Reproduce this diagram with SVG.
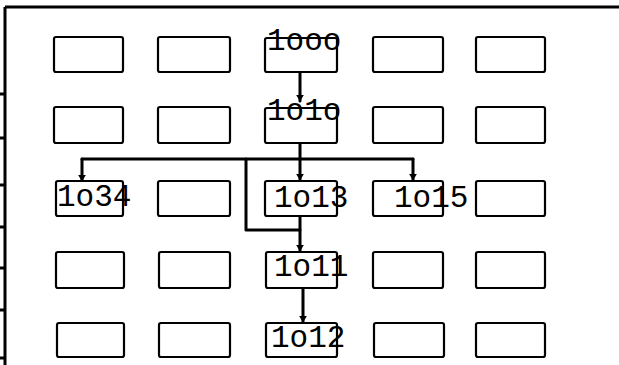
<svg xmlns="http://www.w3.org/2000/svg" width="619" height="365" viewBox="0 0 619 365">
<style>
.box{fill:#fff;stroke:#000;stroke-width:2.2}
.lbl{font-family:"Liberation Mono","DejaVu Sans Mono",monospace;font-size:31px;fill:#000}
.frame{fill:none;stroke:#000;stroke-width:3}
.wire{fill:none;stroke:#000;stroke-width:3;stroke-linecap:round;stroke-linejoin:round}
</style>
<defs>
<marker id="ah" viewBox="0 0 6 8" refX="5.5" refY="4" markerWidth="2.2" markerHeight="3" orient="auto" markerUnits="strokeWidth">
<path d="M0,0.5 L6,4 L0,7.5 z" fill="#000"/>
</marker>
</defs>
<rect width="619" height="365" fill="#fff"/>
<g id="frame">
<path class="frame" d="M5,7 H619 M5,7 V365"/>
<path class="frame" d="M0,94 H6 M0,138 H6 M0,185 H6 M0,227 H6 M0,268 H6 M0,310 H6 M0,358 H6"/>
</g>
<g id="connectors">
<path class="wire" d="M300,72 V101" marker-end="url(#ah)"/>
<path class="wire" d="M300,143 V180" marker-end="url(#ah)"/>
<path class="wire" d="M82,159 H413"/>
<path class="wire" d="M82,159 V181" marker-end="url(#ah)"/>
<path class="wire" d="M413,159 V180" marker-end="url(#ah)"/>
<path class="wire" d="M246,159 V230 H300"/>
<path class="wire" d="M300,216 V251" marker-end="url(#ah)"/>
<path class="wire" d="M303,288 V322" marker-end="url(#ah)"/>
</g>
<g id="r1c1"><rect class="box" x="54" y="37" width="69" height="35" rx="2"/></g>
<g id="r1c2"><rect class="box" x="158" y="37" width="72" height="35" rx="2"/></g>
<g id="n1ooo"><rect class="box" x="265" y="38" width="72" height="34" rx="2"/><text class="lbl" x="267" y="50">1ooo</text></g>
<g id="r1c4"><rect class="box" x="373" y="37" width="70" height="35" rx="2"/></g>
<g id="r1c5"><rect class="box" x="476" y="37" width="69" height="35" rx="2"/></g>
<g id="r2c1"><rect class="box" x="54" y="107" width="69" height="36" rx="2"/></g>
<g id="r2c2"><rect class="box" x="158" y="107" width="72" height="36" rx="2"/></g>
<g id="n1o1o"><rect class="box" x="265" y="108" width="72" height="35" rx="2"/><text class="lbl" x="267" y="120">1o1o</text></g>
<g id="r2c4"><rect class="box" x="373" y="107" width="70" height="36" rx="2"/></g>
<g id="r2c5"><rect class="box" x="476" y="107" width="69" height="36" rx="2"/></g>
<g id="n1o34"><rect class="box" x="56" y="181" width="67" height="35" rx="2"/><text class="lbl" x="57" y="206">1o34</text></g>
<g id="r3c2"><rect class="box" x="158" y="181" width="72" height="35" rx="2"/></g>
<g id="n1o13"><rect class="box" x="265" y="181" width="72" height="35" rx="2"/><text class="lbl" x="274" y="207">1o13</text></g>
<g id="n1o15"><rect class="box" x="373" y="181" width="70" height="35" rx="2"/><text class="lbl" x="394" y="207">1o15</text></g>
<g id="r3c5"><rect class="box" x="476" y="181" width="69" height="35" rx="2"/></g>
<g id="r4c1"><rect class="box" x="56" y="252" width="68" height="36" rx="2"/></g>
<g id="r4c2"><rect class="box" x="159" y="252" width="71" height="36" rx="2"/></g>
<g id="n1o11"><rect class="box" x="266" y="252" width="71" height="36" rx="2"/><text class="lbl" x="274" y="276">1o11</text></g>
<g id="r4c4"><rect class="box" x="373" y="252" width="70" height="36" rx="2"/></g>
<g id="r4c5"><rect class="box" x="476" y="252" width="69" height="36" rx="2"/></g>
<g id="r5c1"><rect class="box" x="57" y="323" width="67" height="34" rx="2"/></g>
<g id="r5c2"><rect class="box" x="159" y="323" width="71" height="34" rx="2"/></g>
<g id="n1o12"><rect class="box" x="266" y="323" width="71" height="34" rx="2"/><text class="lbl" x="271" y="347">1o12</text></g>
<g id="r5c4"><rect class="box" x="374" y="323" width="70" height="34" rx="2"/></g>
<g id="r5c5"><rect class="box" x="476" y="323" width="69" height="34" rx="2"/></g>
</svg>
